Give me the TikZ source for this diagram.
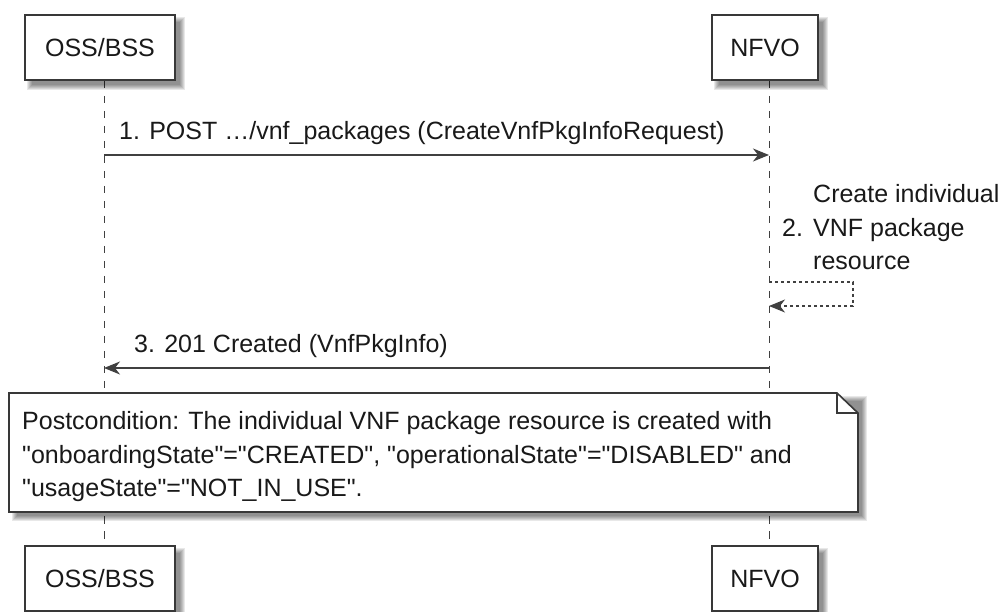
\documentclass[tikz,border=0pt]{standalone}
\usepackage{fontspec}
\setmainfont{Liberation Sans}[Ligatures=TeXOff]
\usetikzlibrary{arrows.meta,calc,backgrounds}
\newcommand\nodeshadow[1]{%
  \foreach \d in {-2,-1,0,1,2,3}{%
    \fill[black,opacity=0.09] ($(#1.north west)+(6-\d,6-\d)$) rectangle ($(#1.south east)+(6+\d,6+\d)$);}}
\begin{document}
\begin{tikzpicture}[x=1pt,y=-1pt,
  every node/.style={font=\fontsize{25}{33}\selectfont, text=black!90},
  participant/.style={draw=black!78, line width=1.6pt, fill=white, minimum height=65pt, inner sep=0pt},
  lifeline/.style={draw=black!75, line width=1pt, dash pattern=on 7.5pt off 7.5pt},
  msg/.style={draw=black!75, line width=1.6pt, -{Stealth[length=16pt,width=13pt,inset=5pt]}},
  selfmsg/.style={msg, line width=1.2pt, dash pattern=on 3pt off 3pt},
  lbl/.style={inner sep=0pt, anchor=base west},
  notebox/.style={draw=black!78, line width=1.6pt, fill=white, line join=miter},
  noteframe/.style={draw=none, fill=none, inner sep=0pt, outer sep=0pt, minimum width=849pt, minimum height=119pt},
]
\useasboundingbox (0,0) rectangle (1002,612);

% participants
\node[participant, minimum width=150pt] (ossTop) at (100,47.5) {OSS/BSS};
\node[participant, minimum width=106pt] (nfvoTop) at (765,47.5) {NFVO};
\node[participant, minimum width=150pt] (ossBot) at (100,578.5) {OSS/BSS};
\node[participant, minimum width=106pt] (nfvoBot) at (765,578.5) {NFVO};

% lifeline coordinates
\coordinate (ossL1) at (104,81);
\coordinate (ossL2) at (104,546);
\coordinate (nfvoL1) at (769,81);
\coordinate (nfvoL2) at (769,546);

% message 1
\coordinate (m1a) at (104,155);
\coordinate (m1b) at (769,155);
\draw[msg] (m1a) -- (m1b);
\node[lbl] (m1t) at (119,140) {1. POST …/vnf\_packages (CreateVnfPkgInfoRequest)};

% message 2 (self)
\coordinate (s1) at (769,282);
\coordinate (s2) at (853,282);
\coordinate (s3) at (853,306);
\coordinate (s4) at (769,306);
\draw[selfmsg] (s1) -- (s2) -- (s3) -- (s4);
\node[lbl] (s2a) at (813,203) {Create individual};
\node[lbl] (s2n) at (782,237) {2.};
\node[lbl] (s2b) at (813,237) {VNF package};
\node[lbl] (s2c) at (813,270) {resource};

% message 3
\coordinate (m3a) at (769,368);
\coordinate (m3b) at (104,368);
\draw[msg] (m3a) -- (m3b);
\node[lbl] (m3t) at (134,353) {3. 201 Created (VnfPkgInfo)};

% note
\node[noteframe] (note) at (433.5,452.5) {};
\filldraw[notebox] (note.north west) -- ($(note.north east)+(-21,0)$) -- ($(note.north east)+(0,20)$) -- (note.south east) -- (note.south west) -- cycle;
\draw[notebox, fill=none] ($(note.north east)+(-21,0)$) -- ($(note.north east)+(-21,20)$) -- ($(note.north east)+(0,20)$);
\node[lbl] (nt1) at (22,430) {Postcondition: The individual VNF package resource is created with};
\node[lbl] (nt2) at (22,463) {"onboardingState"="CREATED", "operationalState"="DISABLED" and};
\node[lbl] (nt3) at (22,496) {"usageState"="NOT\_IN\_USE".};

\begin{scope}[on background layer]
  \draw[lifeline] (ossL1) -- (ossL2);
  \draw[lifeline] (nfvoL1) -- (nfvoL2);
  \nodeshadow{ossTop}
  \nodeshadow{nfvoTop}
  \nodeshadow{ossBot}
  \nodeshadow{nfvoBot}
  \nodeshadow{note}
\end{scope}
\end{tikzpicture}
\end{document}
